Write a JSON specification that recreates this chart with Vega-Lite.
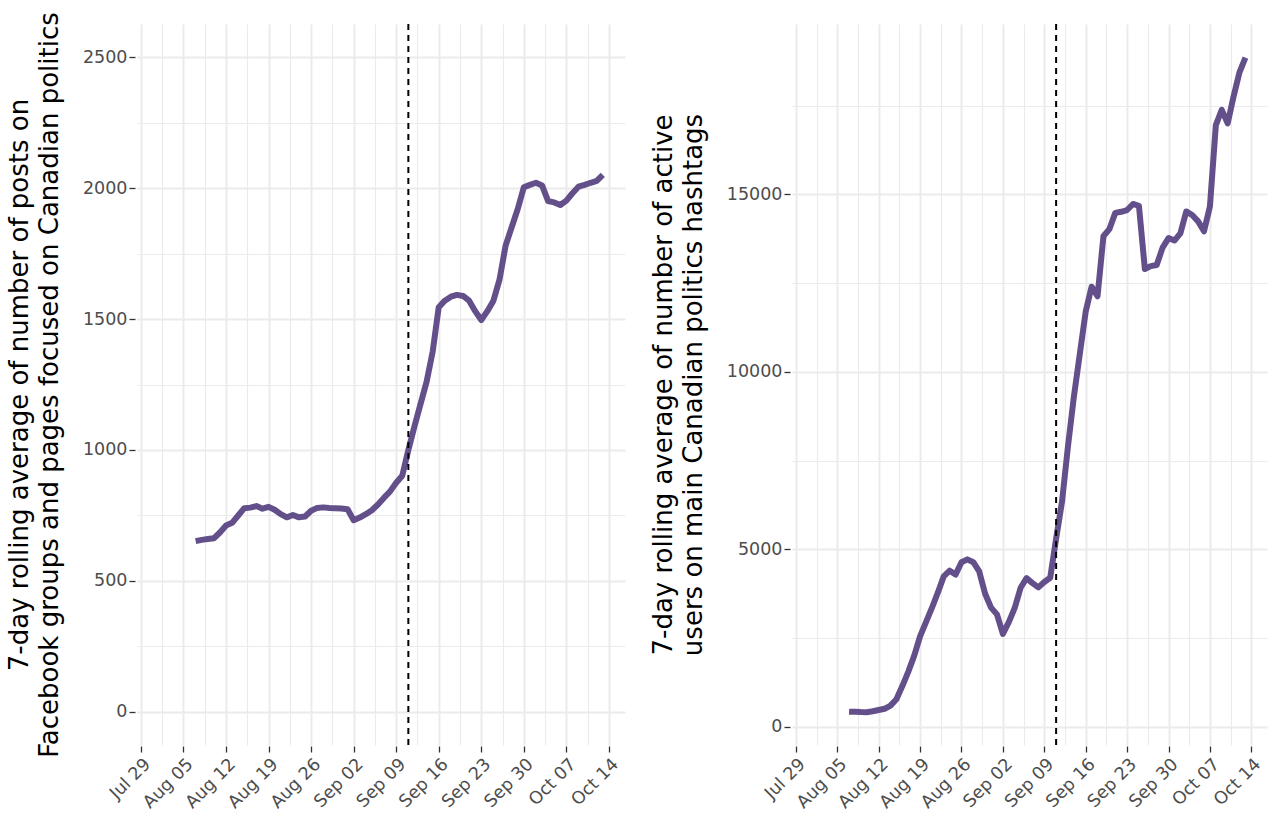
{
  "$schema": "https://vega.github.io/schema/vega-lite/v6.json",
  "padding": {"left": 6, "top": 11, "right": 4, "bottom": 0},
  "spacing": 25,
  "config": {
    "view": {"stroke": null},
    "axis": {
      "labelFont": "DejaVu Sans",
      "labelFontSize": 17.5,
      "labelColor": "#4D4D4D",
      "labelOverlap": false,
      "titleFont": "DejaVu Sans",
      "titleFontSize": 26,
      "titleFontWeight": "normal",
      "titleColor": "#000000",
      "titleLineHeight": 30,
      "gridColor": "#EBEBEB",
      "domain": false,
      "tickColor": "#333333",
      "tickWidth": 1.3
    }
  },
  "datasets": {
    "series": [
      {"date": "2019-08-07", "posts": 652, "users": 430},
      {"date": "2019-08-08", "posts": 657, "users": 425},
      {"date": "2019-08-09", "posts": 660, "users": 418},
      {"date": "2019-08-10", "posts": 663, "users": 415},
      {"date": "2019-08-11", "posts": 685, "users": 440},
      {"date": "2019-08-12", "posts": 712, "users": 475},
      {"date": "2019-08-13", "posts": 722, "users": 510},
      {"date": "2019-08-14", "posts": 750, "users": 600},
      {"date": "2019-08-15", "posts": 778, "users": 780},
      {"date": "2019-08-16", "posts": 780, "users": 1150},
      {"date": "2019-08-17", "posts": 786, "users": 1550},
      {"date": "2019-08-18", "posts": 776, "users": 2000},
      {"date": "2019-08-19", "posts": 783, "users": 2550},
      {"date": "2019-08-20", "posts": 772, "users": 2950},
      {"date": "2019-08-21", "posts": 755, "users": 3350},
      {"date": "2019-08-22", "posts": 743, "users": 3780},
      {"date": "2019-08-23", "posts": 752, "users": 4240},
      {"date": "2019-08-24", "posts": 743, "users": 4400},
      {"date": "2019-08-25", "posts": 746, "users": 4290},
      {"date": "2019-08-26", "posts": 768, "users": 4640},
      {"date": "2019-08-27", "posts": 779, "users": 4720},
      {"date": "2019-08-28", "posts": 781, "users": 4640},
      {"date": "2019-08-29", "posts": 779, "users": 4380},
      {"date": "2019-08-30", "posts": 778, "users": 3750},
      {"date": "2019-08-31", "posts": 777, "users": 3360},
      {"date": "2019-09-01", "posts": 774, "users": 3170},
      {"date": "2019-09-02", "posts": 732, "users": 2620},
      {"date": "2019-09-03", "posts": 742, "users": 2950},
      {"date": "2019-09-04", "posts": 755, "users": 3350},
      {"date": "2019-09-05", "posts": 770, "users": 3920},
      {"date": "2019-09-06", "posts": 792, "users": 4190},
      {"date": "2019-09-07", "posts": 818, "users": 4050},
      {"date": "2019-09-08", "posts": 842, "users": 3930},
      {"date": "2019-09-09", "posts": 875, "users": 4080},
      {"date": "2019-09-10", "posts": 902, "users": 4200},
      {"date": "2019-09-11", "posts": 1000, "users": 5300},
      {"date": "2019-09-12", "posts": 1090, "users": 6350},
      {"date": "2019-09-13", "posts": 1175, "users": 7900},
      {"date": "2019-09-14", "posts": 1260, "users": 9300},
      {"date": "2019-09-15", "posts": 1375, "users": 10500},
      {"date": "2019-09-16", "posts": 1545, "users": 11700},
      {"date": "2019-09-17", "posts": 1570, "users": 12400},
      {"date": "2019-09-18", "posts": 1585, "users": 12130},
      {"date": "2019-09-19", "posts": 1592, "users": 13820},
      {"date": "2019-09-20", "posts": 1588, "users": 14020},
      {"date": "2019-09-21", "posts": 1570, "users": 14480},
      {"date": "2019-09-22", "posts": 1530, "users": 14510},
      {"date": "2019-09-23", "posts": 1496, "users": 14560},
      {"date": "2019-09-24", "posts": 1530, "users": 14730},
      {"date": "2019-09-25", "posts": 1570, "users": 14680},
      {"date": "2019-09-26", "posts": 1650, "users": 12900},
      {"date": "2019-09-27", "posts": 1780, "users": 12980},
      {"date": "2019-09-28", "posts": 1850, "users": 13010},
      {"date": "2019-09-29", "posts": 1920, "users": 13500},
      {"date": "2019-09-30", "posts": 2003, "users": 13770},
      {"date": "2019-10-01", "posts": 2012, "users": 13700},
      {"date": "2019-10-02", "posts": 2020, "users": 13900},
      {"date": "2019-10-03", "posts": 2010, "users": 14520},
      {"date": "2019-10-04", "posts": 1950, "users": 14420},
      {"date": "2019-10-05", "posts": 1945, "users": 14240},
      {"date": "2019-10-06", "posts": 1935, "users": 13960},
      {"date": "2019-10-07", "posts": 1952, "users": 14660},
      {"date": "2019-10-08", "posts": 1980, "users": 16950},
      {"date": "2019-10-09", "posts": 2005, "users": 17380},
      {"date": "2019-10-10", "posts": 2012, "users": 17000},
      {"date": "2019-10-11", "posts": 2020, "users": 17760},
      {"date": "2019-10-12", "posts": 2027, "users": 18440},
      {"date": "2019-10-13", "posts": 2050, "users": 18850}
    ],
    "events": [{"date": "2019-09-11"}]
  },
  "hconcat": [
    {
      "width": 488,
      "height": 721,
      "resolve": {"axis": {"x": "independent", "y": "independent"}},
      "layer": [
        {
          "data": {"name": "series"},
          "mark": {"type": "line", "opacity": 0},
          "encoding": {
            "x": {
              "field": "date", "type": "temporal",
              "scale": {"type": "utc", "domain": [
                {"year": 2019, "month": 7, "date": 28, "hours": 8, "minutes": 24, "utc": true},
                {"year": 2019, "month": 10, "date": 16, "hours": 15, "minutes": 36, "utc": true}
              ]},
              "axis": {
                "orient": "bottom", "title": null, "labels": false, "ticks": false, "grid": true, "gridWidth": 1.1,
                "values": [
                  {"year": 2019, "month": 8, "date": 1, "hours": 12, "utc": true},
                  {"year": 2019, "month": 8, "date": 8, "hours": 12, "utc": true},
                  {"year": 2019, "month": 8, "date": 15, "hours": 12, "utc": true},
                  {"year": 2019, "month": 8, "date": 22, "hours": 12, "utc": true},
                  {"year": 2019, "month": 8, "date": 29, "hours": 12, "utc": true},
                  {"year": 2019, "month": 9, "date": 5, "hours": 12, "utc": true},
                  {"year": 2019, "month": 9, "date": 12, "hours": 12, "utc": true},
                  {"year": 2019, "month": 9, "date": 19, "hours": 12, "utc": true},
                  {"year": 2019, "month": 9, "date": 26, "hours": 12, "utc": true},
                  {"year": 2019, "month": 10, "date": 3, "hours": 12, "utc": true},
                  {"year": 2019, "month": 10, "date": 10, "hours": 12, "utc": true}
                ]
              }
            },
            "y": {
              "field": "posts", "type": "quantitative",
              "scale": {"domain": [-126, 2626], "nice": false, "zero": false},
              "axis": {"orient": "left", "title": null, "labels": false, "ticks": false, "grid": true, "gridWidth": 1.1, "values": [250, 750, 1250, 1750, 2250]}
            }
          }
        },
        {
          "data": {"name": "series"},
          "mark": {"type": "line", "color": "#63508B", "strokeWidth": 6, "strokeJoin": "round"},
          "encoding": {
            "x": {
              "field": "date", "type": "temporal",
              "axis": {
                "orient": "bottom", "title": null, "grid": true, "gridWidth": 2, "format": "%b %d",
                "labelAngle": -45, "labelAlign": "right", "labelBaseline": "top", "labelPadding": 3, "tickSize": 6, "offset": 1,
                "values": [
                  {"year": 2019, "month": 7, "date": 29, "utc": true},
                  {"year": 2019, "month": 8, "date": 5, "utc": true},
                  {"year": 2019, "month": 8, "date": 12, "utc": true},
                  {"year": 2019, "month": 8, "date": 19, "utc": true},
                  {"year": 2019, "month": 8, "date": 26, "utc": true},
                  {"year": 2019, "month": 9, "date": 2, "utc": true},
                  {"year": 2019, "month": 9, "date": 9, "utc": true},
                  {"year": 2019, "month": 9, "date": 16, "utc": true},
                  {"year": 2019, "month": 9, "date": 23, "utc": true},
                  {"year": 2019, "month": 9, "date": 30, "utc": true},
                  {"year": 2019, "month": 10, "date": 7, "utc": true},
                  {"year": 2019, "month": 10, "date": 14, "utc": true}
                ]
              }
            },
            "y": {
              "field": "posts", "type": "quantitative",
              "axis": {
                "orient": "left", "grid": true, "gridWidth": 2, "tickSize": 6, "offset": 2, "labelPadding": 2, "format": "d",
                "values": [0, 500, 1000, 1500, 2000, 2500], "titlePadding": 20,
                "title": ["7-day rolling average of number of posts on", "Facebook groups and pages focused on Canadian politics"]
              }
            }
          }
        },
        {
          "data": {"name": "events"},
          "mark": {"type": "rule", "color": "#000000", "strokeWidth": 2, "strokeDash": [6, 5]},
          "encoding": {"x": {"field": "date", "type": "temporal", "axis": null}}
        }
      ]
    },
    {
      "width": 475,
      "height": 721,
      "resolve": {"axis": {"x": "independent", "y": "independent"}},
      "layer": [
        {
          "data": {"name": "series"},
          "mark": {"type": "line", "opacity": 0},
          "encoding": {
            "x": {
              "field": "date", "type": "temporal",
              "scale": {"type": "utc", "domain": [
                {"year": 2019, "month": 7, "date": 28, "hours": 8, "minutes": 24, "utc": true},
                {"year": 2019, "month": 10, "date": 16, "hours": 15, "minutes": 36, "utc": true}
              ]},
              "axis": {
                "orient": "bottom", "title": null, "labels": false, "ticks": false, "grid": true, "gridWidth": 1.1,
                "values": [
                  {"year": 2019, "month": 8, "date": 1, "hours": 12, "utc": true},
                  {"year": 2019, "month": 8, "date": 8, "hours": 12, "utc": true},
                  {"year": 2019, "month": 8, "date": 15, "hours": 12, "utc": true},
                  {"year": 2019, "month": 8, "date": 22, "hours": 12, "utc": true},
                  {"year": 2019, "month": 8, "date": 29, "hours": 12, "utc": true},
                  {"year": 2019, "month": 9, "date": 5, "hours": 12, "utc": true},
                  {"year": 2019, "month": 9, "date": 12, "hours": 12, "utc": true},
                  {"year": 2019, "month": 9, "date": 19, "hours": 12, "utc": true},
                  {"year": 2019, "month": 9, "date": 26, "hours": 12, "utc": true},
                  {"year": 2019, "month": 10, "date": 3, "hours": 12, "utc": true},
                  {"year": 2019, "month": 10, "date": 10, "hours": 12, "utc": true}
                ]
              }
            },
            "y": {
              "field": "users", "type": "quantitative",
              "scale": {"domain": [-510, 19800], "nice": false, "zero": false},
              "axis": {"orient": "left", "title": null, "labels": false, "ticks": false, "grid": true, "gridWidth": 1.1, "values": [2500, 7500, 12500, 17500]}
            }
          }
        },
        {
          "data": {"name": "series"},
          "mark": {"type": "line", "color": "#63508B", "strokeWidth": 6, "strokeJoin": "round"},
          "encoding": {
            "x": {
              "field": "date", "type": "temporal",
              "axis": {
                "orient": "bottom", "title": null, "grid": true, "gridWidth": 2, "format": "%b %d",
                "labelAngle": -45, "labelAlign": "right", "labelBaseline": "top", "labelPadding": 3, "tickSize": 6, "offset": 1,
                "values": [
                  {"year": 2019, "month": 7, "date": 29, "utc": true},
                  {"year": 2019, "month": 8, "date": 5, "utc": true},
                  {"year": 2019, "month": 8, "date": 12, "utc": true},
                  {"year": 2019, "month": 8, "date": 19, "utc": true},
                  {"year": 2019, "month": 8, "date": 26, "utc": true},
                  {"year": 2019, "month": 9, "date": 2, "utc": true},
                  {"year": 2019, "month": 9, "date": 9, "utc": true},
                  {"year": 2019, "month": 9, "date": 16, "utc": true},
                  {"year": 2019, "month": 9, "date": 23, "utc": true},
                  {"year": 2019, "month": 9, "date": 30, "utc": true},
                  {"year": 2019, "month": 10, "date": 7, "utc": true},
                  {"year": 2019, "month": 10, "date": 14, "utc": true}
                ]
              }
            },
            "y": {
              "field": "users", "type": "quantitative",
              "axis": {
                "orient": "left", "grid": true, "gridWidth": 2, "tickSize": 6, "offset": 2, "labelPadding": 2, "format": "d",
                "values": [0, 5000, 10000, 15000], "titlePadding": 20,
                "title": ["7-day rolling average of number of active", "users on main Canadian politics hashtags"]
              }
            }
          }
        },
        {
          "data": {"name": "events"},
          "mark": {"type": "rule", "color": "#000000", "strokeWidth": 2, "strokeDash": [6, 5]},
          "encoding": {"x": {"field": "date", "type": "temporal", "axis": null}}
        }
      ]
    }
  ]
}
